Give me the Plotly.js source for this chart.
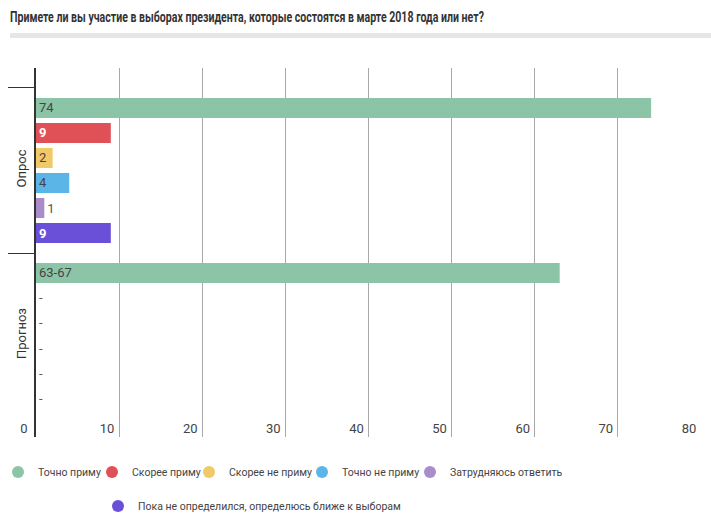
<!DOCTYPE html>
<html>
<head>
<meta charset="utf-8">
<script src="https://cdn.plot.ly/plotly-3.0.1.min.js"></script>
<style>
  html, body { margin: 0; padding: 0; background: #fff; }
  #chart { width: 711px; height: 526px; }
</style>
</head>
<body>
<div id="chart"></div>
<script>
'use strict';

// данные
var categories = ['Опрос', 'Прогноз'];
var seriesNames = [
  'Точно приму',
  'Скорее приму',
  'Скорее не приму',
  'Точно не приму',
  'Затрудняюсь ответить',
  'Пока не определился, определюсь ближе к выборам'
];
var seriesColors = ['#8cc4a8', '#df5157', '#f0ca68', '#5bb5e6', '#aa8cca', '#6a50d9'];
var surveyValues = [74, 9, 2, 4, 1, 9];
var forecastValues = [63, null, null, null, null, null];
var forecastLabels = ['63-67', '-', '-', '-', '-', '-'];
var whiteLabel = [false, true, false, false, false, true];

// где стоят кружки легенды (px), строка 1 и 2
var legendDotX = [18, 112, 209, 322, 430, 118];
var legendDotY = [472, 472, 472, 472, 472, 506];

var mainFont = 'Roboto, "DejaVu Sans", sans-serif';

// область графика в px
var plotL = 36, plotR = 701, plotT = 68, plotB = 437;
var plotW = plotR - plotL, plotH = plotB - plotT;

var data = [];

seriesNames.forEach(function(name, i) {
  var fv = forecastValues[i];
  data.push({
    type: 'bar',
    orientation: 'h',
    name: name,
    y: categories,
    x: [surveyValues[i], fv === null ? 0 : fv],
    text: [String(surveyValues[i]), forecastLabels[i]],
    textposition: [surveyValues[i] < 2 ? 'outside' : 'inside', fv === null ? 'outside' : 'inside'],
    textangle: 0,
    insidetextanchor: 'start',
    constraintext: 'none',
    cliponaxis: false,
    insidetextfont: {
      family: mainFont,
      size: 13,
      color: whiteLabel[i] ? '#ffffff' : '#444444',
      weight: whiteLabel[i] ? 'bold' : 'normal'
    },
    outsidetextfont: { family: mainFont, size: 13, color: '#555555' },
    marker: { color: seriesColors[i] },
    hoverinfo: 'none',
    showlegend: false,
    legendgroup: 'g' + i
  });
});

// кружки для легенды, у каждого своя легенда
var legends = {};
seriesNames.forEach(function(name, i) {
  var key = i === 0 ? 'legend' : 'legend' + (i + 1);
  data.push({
    type: 'scatter',
    mode: 'markers',
    name: name,
    x: [null],
    y: [null],
    marker: { color: seriesColors[i], size: 14, symbol: 'circle' },
    legendgroup: 'g' + i,
    legend: key,
    hoverinfo: 'none'
  });
  legends[key] = {
    orientation: 'h',
    xanchor: 'left',
    yanchor: 'middle',
    x: (legendDotX[i] - 20 - plotL) / plotW,
    y: (plotB - legendDotY[i]) / plotH,
    font: { family: mainFont, size: 10.5, color: '#444444' },
    itemsizing: 'constant',
    itemwidth: 30,
    bgcolor: 'rgba(0,0,0,0)'
  };
});

var layout = {
  width: 711,
  height: 526,
  margin: { l: plotL, r: 711 - plotR, t: plotT, b: 526 - plotB, autoexpand: false },
  paper_bgcolor: '#ffffff',
  plot_bgcolor: '#ffffff',
  font: { family: mainFont, size: 13, color: '#444444' },
  title: {
    text: 'Примете ли вы участие в выборах президента, которые состоятся в марте 2018 года или нет?',
    font: { family: mainFont, size: 14, color: '#333333', weight: 'bold' },
    xref: 'container',
    yref: 'container',
    x: 10 / 711,
    xanchor: 'left',
    y: 1 - 17 / 526,
    yanchor: 'middle'
  },
  barmode: 'group',
  bargap: 0.09,
  bargroupgap: 0.2,
  xaxis: {
    range: [0, 80],
    dtick: 10,
    showgrid: true,
    gridcolor: '#a8a8a8',
    gridwidth: 1,
    zeroline: false,
    showline: false,
    ticks: '',
    ticklabelposition: 'outside',
    ticklabelshift: -12,
    ticklabelstandoff: -18,
    tickfont: { family: mainFont, size: 13, color: '#444444' },
    automargin: false,
    fixedrange: true
  },
  yaxis: {
    type: 'category',
    range: [1.615, -0.621],
    tickson: 'boundaries',
    ticks: 'outside',
    ticklen: 26,
    tickcolor: '#333333',
    tickwidth: 1,
    tickangle: -90,
    ticklabelstandoff: 3,
    showgrid: false,
    zeroline: false,
    showline: true,
    linecolor: '#333333',
    linewidth: 2,
    tickfont: { family: mainFont, size: 13, color: '#333333' },
    automargin: false,
    fixedrange: true
  },
  shapes: [{
    type: 'rect',
    xref: 'paper',
    yref: 'paper',
    x0: (10 - plotL) / plotW,
    x1: (711 - plotL) / plotW,
    y0: (plotB - 38) / plotH,
    y1: (plotB - 33) / plotH,
    fillcolor: '#e6e6e6',
    line: { width: 0 },
    layer: 'below'
  }]
};
Object.assign(layout, legends);

// заголовок в оригинале узким шрифтом - сжимаем
function narrowTitle() {
  document.querySelectorAll('#chart .gtitle').forEach(function(el) {
    if (el.hasAttribute('textLength')) return;
    var w = el.getComputedTextLength();
    if (!w) return;
    el.setAttribute('textLength', (w * 0.755).toFixed(1));
    el.setAttribute('lengthAdjust', 'spacingAndGlyphs');
  });
}

Plotly.newPlot('chart', data, layout, { displayModeBar: false, staticPlot: true }).then(narrowTitle);
</script>
</body>
</html>
